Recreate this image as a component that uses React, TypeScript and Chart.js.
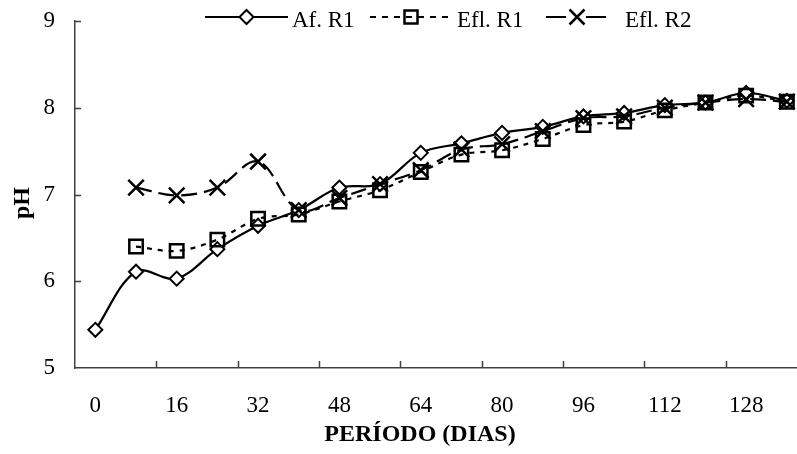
import React, { useEffect, useRef } from "react";
import { Chart, registerables } from "chart.js";

Chart.register(...registerables);

// ---- data ----
const days = [0, 8, 16, 24, 32, 40, 48, 56, 64, 72, 80, 88, 96, 104, 112, 120, 128, 136];
const afR1 = [5.44, 6.11, 6.03, 6.37, 6.64, 6.82, 7.08, 7.12, 7.48, 7.59, 7.71, 7.78, 7.9, 7.94, 8.03, 8.06, 8.17, 8.08];
const eflR1 = [null, 6.4, 6.35, 6.48, 6.72, 6.77, 6.92, 7.05, 7.26, 7.46, 7.51, 7.64, 7.8, 7.84, 7.97, 8.06, 8.14, 8.07];
const eflR2 = [null, 7.08, 6.99, 7.08, 7.38, 6.82, 6.96, 7.12, 7.28, 7.52, 7.58, 7.73, 7.88, 7.9, 8.0, 8.06, 8.1, 8.07];
const seriesNames = ["Af. R1", "Efl. R1", "Efl. R2"];
const xTickValues = [0, 16, 32, 48, 64, 80, 96, 112, 128];
const yTickValues = [5, 6, 7, 8, 9];
const xTitle = "PERÍODO (DIAS)";
const yTitle = "pH";

const FONT = '"Liberation Serif", "Times New Roman", serif';
const AXIS_COLOR = "#404040";

function toPoints(ys: (number | null)[]) {
  return days.map((d, i) => ({ x: d, y: ys[i] }));
}

function drawMarker(ctx: CanvasRenderingContext2D, kind: string, x: number, y: number) {
  ctx.save();
  ctx.setLineDash([]);
  ctx.strokeStyle = "#000";
  ctx.beginPath();
  if (kind === "diamond") {
    ctx.lineWidth = 2;
    ctx.moveTo(x, y - 7);
    ctx.lineTo(x + 7, y);
    ctx.lineTo(x, y + 7);
    ctx.lineTo(x - 7, y);
    ctx.closePath();
    ctx.fillStyle = "#fff";
    ctx.fill();
    ctx.stroke();
  } else if (kind === "square") {
    ctx.lineWidth = 2.5;
    ctx.rect(x - 6.5, y - 6.5, 13, 13);
    ctx.stroke();
  } else {
    ctx.lineWidth = 2.5;
    ctx.moveTo(x - 7.5, y - 7.5);
    ctx.lineTo(x + 7.5, y + 7.5);
    ctx.moveTo(x + 7.5, y - 7.5);
    ctx.lineTo(x - 7.5, y + 7.5);
    ctx.stroke();
  }
  ctx.restore();
}

const decorPlugin = {
  id: "decor",
  beforeDatasetsDraw(chart: any) {
    const { ctx, chartArea, scales } = chart;
    const xs = scales.x;
    const ys = scales.y;
    ctx.save();
    ctx.strokeStyle = AXIS_COLOR;
    ctx.lineWidth = 1.5;
    ctx.beginPath();
    // x tick marks at category boundaries (between labelled days), inward
    xTickValues.forEach((v) => {
      const b = v + 12;
      if (b < xs.max) {
        const px = Math.round(xs.getPixelForValue(b)) + 0.5;
        ctx.moveTo(px, chartArea.bottom);
        ctx.lineTo(px, chartArea.bottom - 7);
      }
    });
    // y tick marks, inward
    yTickValues.forEach((v) => {
      if (v === ys.min) return;
      const py = Math.round(ys.getPixelForValue(v)) + 0.5;
      ctx.moveTo(chartArea.left, py);
      ctx.lineTo(chartArea.left + 6, py);
    });
    ctx.stroke();
    ctx.restore();
  },
  afterDraw(chart: any) {
    const { ctx } = chart;
    ctx.save();
    // axis titles
    ctx.fillStyle = "#000";
    ctx.font = `bold 24px ${FONT}`;
    ctx.textAlign = "center";
    ctx.textBaseline = "middle";
    ctx.fillText(xTitle, 420, 435);
    ctx.save();
    ctx.translate(23, 203);
    ctx.rotate(-Math.PI / 2);
    ctx.fillText(yTitle, 0, 0);
    ctx.restore();

    // legend
    const ly = 17;
    const items = [
      { x0: 205, x1: 288, mx: 246.5, tx: 292, dash: [] as number[], kind: "diamond" },
      { x0: 370, x1: 452, mx: 411, tx: 457, dash: [6, 6], kind: "square" },
      { x0: 546, x1: 607, mx: 577, tx: 625, dash: [20, 20], kind: "x" },
    ];
    items.forEach((it, i) => {
      ctx.save();
      ctx.strokeStyle = "#000";
      ctx.lineWidth = 2.2;
      ctx.setLineDash(it.dash);
      ctx.beginPath();
      ctx.moveTo(it.x0, ly);
      ctx.lineTo(it.x1, ly);
      ctx.stroke();
      ctx.restore();
      drawMarker(ctx, it.kind, it.mx, ly);
      ctx.font = `23px ${FONT}`;
      ctx.textAlign = "left";
      ctx.textBaseline = "alphabetic";
      ctx.fillStyle = "#000";
      ctx.fillText(seriesNames[i], it.tx, 27);
    });
    ctx.restore();
  },
};

export default function App() {
  const canvasRef = useRef<HTMLCanvasElement | null>(null);

  useEffect(() => {
    const canvas = canvasRef.current;
    if (!canvas) return;
    const chart = new Chart(canvas, {
      type: "line",
      data: {
        datasets: [
          {
            label: seriesNames[0],
            data: toPoints(afR1) as any,
            borderColor: "#000",
            borderWidth: 2.2,
            tension: 0.35,
            fill: false,
            pointStyle: "rectRot",
            pointRadius: 7,
            pointBorderWidth: 2,
            pointBorderColor: "#000",
            pointBackgroundColor: "#fff",
            order: 3,
          },
          {
            label: seriesNames[1],
            data: toPoints(eflR1) as any,
            borderColor: "#000",
            borderWidth: 2.2,
            borderDash: [5, 6],
            tension: 0.35,
            fill: false,
            pointStyle: "rect",
            pointRadius: 9.5,
            pointBorderWidth: 2.5,
            pointBorderColor: "#000",
            pointBackgroundColor: "rgba(0,0,0,0)",
            order: 2,
          },
          {
            label: seriesNames[2],
            data: toPoints(eflR2) as any,
            borderColor: "#000",
            borderWidth: 2.2,
            borderDash: [16, 7],
            tension: 0.35,
            fill: false,
            pointStyle: "crossRot",
            pointRadius: 11,
            pointBorderWidth: 2.5,
            pointBorderColor: "#000",
            pointBackgroundColor: "rgba(0,0,0,0)",
            order: 1,
          },
        ],
      },
      options: {
        animation: false,
        responsive: false,
        maintainAspectRatio: false,
        layout: { autoPadding: false, padding: { top: 21, left: 0, right: 0, bottom: 0 } },
        plugins: {
          legend: { display: false },
          tooltip: { enabled: false },
          title: { display: false },
        },
        scales: {
          x: {
            type: "linear",
            min: -4,
            max: 138,
            afterBuildTicks: (s: any) => {
              s.ticks = xTickValues.map((v) => ({ value: v }));
            },
            afterFit: (s: any) => {
              s.height = 86;
              s.paddingLeft = 0;
              s.paddingRight = 0;
            },
            grid: { display: false, drawTicks: false },
            border: { display: true, color: AXIS_COLOR, width: 1.5 },
            ticks: {
              color: "#000",
              font: { family: FONT, size: 23 },
              padding: 24,
              maxRotation: 0,
              autoSkip: false,
              callback: (v: any) => String(v),
            },
          },
          y: {
            type: "linear",
            min: 5,
            max: 9,
            afterBuildTicks: (s: any) => {
              s.ticks = yTickValues.map((v) => ({ value: v }));
            },
            afterFit: (s: any) => {
              s.width = 75;
              s.paddingTop = 0;
              s.paddingBottom = 0;
            },
            grid: { display: false, drawTicks: false },
            border: { display: true, color: AXIS_COLOR, width: 1.5 },
            ticks: {
              color: "#000",
              font: { family: FONT, size: 23 },
              padding: 20,
              callback: (v: any) => String(v),
            },
          },
        },
      },
      plugins: [decorPlugin],
    });
    return () => chart.destroy();
  }, []);

  return (
    <div style={{ position: "absolute", left: 0, top: 0, width: 797, height: 454, background: "#fff" }}>
      <canvas ref={canvasRef} width={797} height={454} style={{ display: "block", width: 797, height: 454 }} />
    </div>
  );
}
